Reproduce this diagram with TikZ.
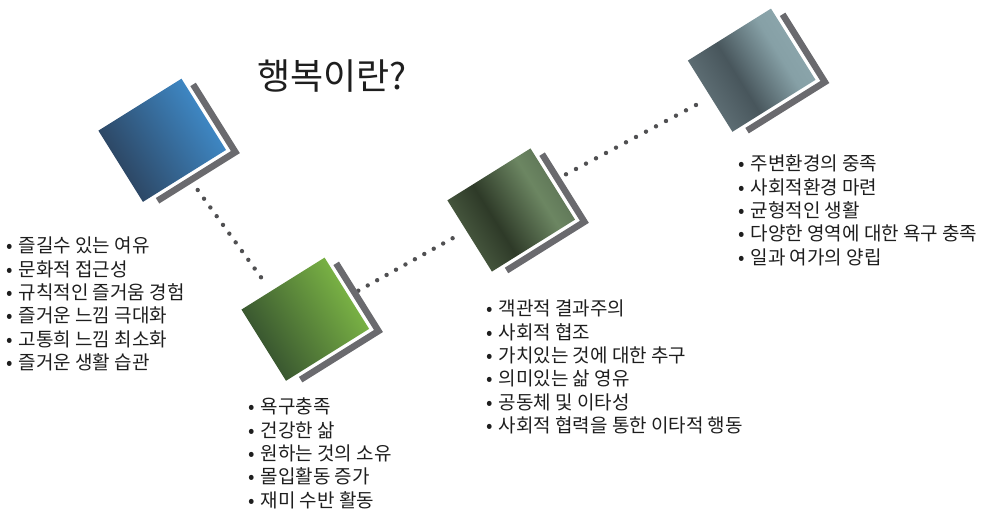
\documentclass[tikz,border=0pt]{standalone}
\usepackage{fontspec}
\newfontfamily\kr{Noto Sans CJK KR}
\usetikzlibrary{calc}
\definecolor{dotc}{HTML}{505052}
\definecolor{brk}{HTML}{6A6A6E}
\definecolor{txt}{HTML}{1E1E1E}
\definecolor{a1}{RGB}{45,72,102}
\definecolor{a2}{RGB}{62,134,194}
\definecolor{b1}{RGB}{58,88,48}
\definecolor{b2}{RGB}{120,176,68}
\definecolor{c0}{RGB}{68,84,60}
\definecolor{c1}{RGB}{46,58,40}
\definecolor{c2}{RGB}{108,134,98}
\definecolor{c3}{RGB}{98,122,90}
\definecolor{e0}{RGB}{92,108,114}
\definecolor{e1}{RGB}{72,86,92}
\definecolor{e2}{RGB}{134,160,166}
\definecolor{e3}{RGB}{138,164,170}
\pgfdeclarehorizontalshading{shA}{100bp}{color(0bp)=(a1); color(25bp)=(a1); color(75bp)=(a2); color(100bp)=(a2)}
\pgfdeclarehorizontalshading{shB}{100bp}{color(0bp)=(b1); color(25bp)=(b1); color(75bp)=(b2); color(100bp)=(b2)}
\pgfdeclarehorizontalshading{shC}{100bp}{color(0bp)=(c0); color(25bp)=(c0); color(40bp)=(c1); color(66bp)=(c2); color(75bp)=(c3); color(100bp)=(c3)}
\pgfdeclarehorizontalshading{shD}{100bp}{color(0bp)=(e0); color(25bp)=(e0); color(42bp)=(e1); color(66bp)=(e2); color(75bp)=(e3); color(100bp)=(e3)}
\newcommand\bl{\makebox[12.5pt][l]{•}}
\tikzset{
  sqbox/.style={rectangle, minimum width=98pt, minimum height=84pt, inner sep=0pt, draw=none, rotate=32},
  bracketline/.style={draw=brk, line width=6.5pt, line cap=butt, line join=miter},
  dotline/.style={draw=dotc, line width=4.4pt, line cap=round, dash pattern=on 0pt off #1},
  lst/.style={font=\kr\fontsize{19}{23.3}\selectfont, align=left, inner sep=0pt, text=txt, anchor=north west},
  ttl/.style={font=\kr\fontsize{36}{40}\selectfont, inner sep=0pt, text=txt, anchor=west}
}
\begin{document}
\begin{tikzpicture}[x=1pt,y=-1pt]
\useasboundingbox (0,0) rectangle (988,510);
% dotted connectors
\coordinate (d1a) at (197.7,190); \coordinate (d1b) at (267.3,286);
\coordinate (d2a) at (358.3,290.7); \coordinate (d2b) at (462,233);
\coordinate (d3a) at (566,174.3); \coordinate (d3b) at (696,105);
\draw[dotline=10.78pt] (d1a) -- (d1b);
\draw[dotline=10.79pt] (d2a) -- (d2b);
\draw[dotline=11.33pt] (d3a) -- (d3b);
% squares (named frames)
\node[sqbox] (sq1) at (162.2,140.3) {};
\node[sqbox] (sq2) at (305.3,319.2) {};
\node[sqbox] (sq3) at (511.2,210) {};
\node[sqbox] (sq4) at (751.7,70.2) {};
\foreach \s/\sh in {sq1/shA,sq2/shB,sq3/shC,sq4/shD}{
  \begin{scope}[transform canvas={shift={(\s.center)}, rotate=32}]
    \shade[shading=\sh] (-49,-42) rectangle (49,42);
    \draw[bracketline] (55.8,-31) -- (55.8,48.8) -- (-36,48.8);
  \end{scope}
}
% title
\node[ttl] (title) at (257,76) {행복이란?};
% lists
\node[lst] (l1) at (6,237) {\bl 즐길수 있는 여유\\ \bl 문화적 접근성\\ \bl 규칙적인 즐거움 경험\\ \bl 즐거운 느낌 극대화\\ \bl 고통희 느낌 최소화\\ \bl 즐거운 생활 습관};
\node[lst] (l2) at (248,398) {\bl 욕구충족\\ \bl 건강한 삶\\ \bl 원하는 것의 소유\\ \bl 몰입활동 증가\\ \bl 재미 수반 활동};
\node[lst] (l3) at (486,300) {\bl 객관적 결과주의\\ \bl 사회적 협조\\ \bl 가치있는 것에 대한 추구\\ \bl 의미있는 삶 영유\\ \bl 공동체 및 이타성\\ \bl 사회적 협력을 통한 이타적 행동};
\node[lst] (l4) at (738,155) {\bl 주변환경의 중족\\ \bl 사회적환경 마련\\ \bl 균형적인 생활\\ \bl 다양한 영역에 대한 욕구 충족\\ \bl 일과 여가의 양립};
\end{tikzpicture}
\end{document}
